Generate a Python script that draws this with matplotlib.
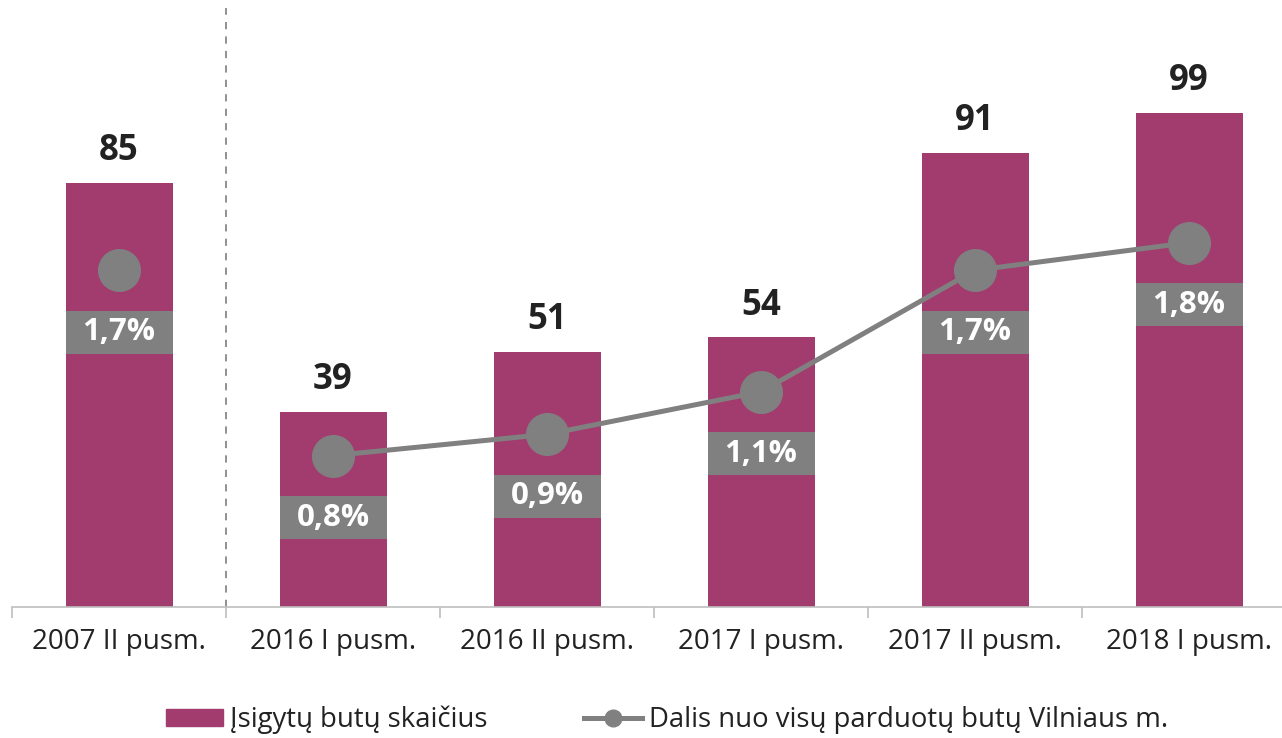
import matplotlib
matplotlib.use("Agg")
import matplotlib.pyplot as plt
from matplotlib.patches import Rectangle
from matplotlib.lines import Line2D
from matplotlib.patches import Patch

categories = ["2007 II pusm.", "2016 I pusm.", "2016 II pusm.", "2017 I pusm.", "2017 II pusm.", "2018 I pusm."]
bought = [85, 39, 51, 54, 91, 99]
share = [1.67, 0.8, 0.9, 1.1, 1.67, 1.8]
bar_label = "Įsigytų butų skaičius"
line_label = "Dalis nuo visų parduotų butų Vilniaus m."

BAR = "#A23B6E"
GRAY = "#808080"
FONT = "Open Sans"
plt.rcParams['font.family'] = [FONT, 'DejaVu Sans']

W, H = 1282, 738
fig = plt.figure(figsize=(W / 100, H / 100), dpi=100)
left, right, bottom, top = 12, 1296, 607, 8
PX_PER_UNIT2 = 213.0
ax = fig.add_axes([left / W, (H - bottom) / H, (right - left) / W, (bottom - top) / H])
ax2 = ax.twinx()

x = list(range(len(categories)))
BW = 0.5
ax.bar(x, bought, width=BW, color=BAR, zorder=2)
ax.set_xlim(-0.5, len(categories) - 0.5)
ax.set_ylim(0, 120)
ax2.set_ylim((626 - bottom) / PX_PER_UNIT2, (626 - top) / PX_PER_UNIT2)

for xi, v in zip(x, bought):
    ax.annotate(f"{v}", (xi, v), xytext=(0, 23), textcoords="offset points",
                ha="center", va="center", fontsize=25, fontweight="bold", color="#222222")

ax2.plot(x[1:], share[1:], color=GRAY, lw=3.6, marker="o", ms=30, zorder=3)
ax2.plot(x[:1], share[:1], color=GRAY, lw=0, marker="o", ms=30, zorder=3)

box_h = 43 / PX_PER_UNIT2
box_off = 62 / PX_PER_UNIT2
for xi, v in zip(x, share):
    cy = v - box_off
    ax2.add_patch(Rectangle((xi - BW / 2, cy - box_h / 2), BW, box_h, fc=GRAY, ec="none", zorder=4))
    ax2.text(xi, cy, f"{v:.1f}".replace(".", ",") + "%", ha="center", va="center",
             fontsize=22.5, fontweight="bold", color="white", zorder=5)

# separator
ax.axvline(0.5, color="#888888", lw=1.3, ls=(0, (4, 4)), zorder=1)

for s in ["top", "right", "left"]:
    ax.spines[s].set_visible(False)
    ax2.spines[s].set_visible(False)
ax2.spines["bottom"].set_visible(False)
ax.spines["bottom"].set_color("#BFBFBF")
ax.spines["bottom"].set_linewidth(1.2)
ax.set_yticks([])
ax2.set_yticks([])
ax.set_xticks([i - 0.5 for i in range(len(categories) + 1)], minor=True)
ax.set_xticks(x)
ax.set_xticklabels(categories, fontsize=20, color="#222222")
ax.tick_params(axis="x", which="major", length=0, pad=15)
ax.tick_params(axis="x", which="minor", length=8, color="#BFBFBF", width=1.2)

handles = [Patch(color=BAR, label=bar_label),
           Line2D([0], [0], color=GRAY, lw=3.6, marker="o", ms=12, label=line_label)]
fig.legend(handles=handles, loc="center", bbox_to_anchor=(0.52, 18 / H), ncol=2, frameon=False,
           fontsize=19.8, handlelength=2.1, handleheight=0.6, columnspacing=3.5, handletextpad=0.25,
           labelcolor="#222222")

fig.savefig("out.png", dpi=100)
